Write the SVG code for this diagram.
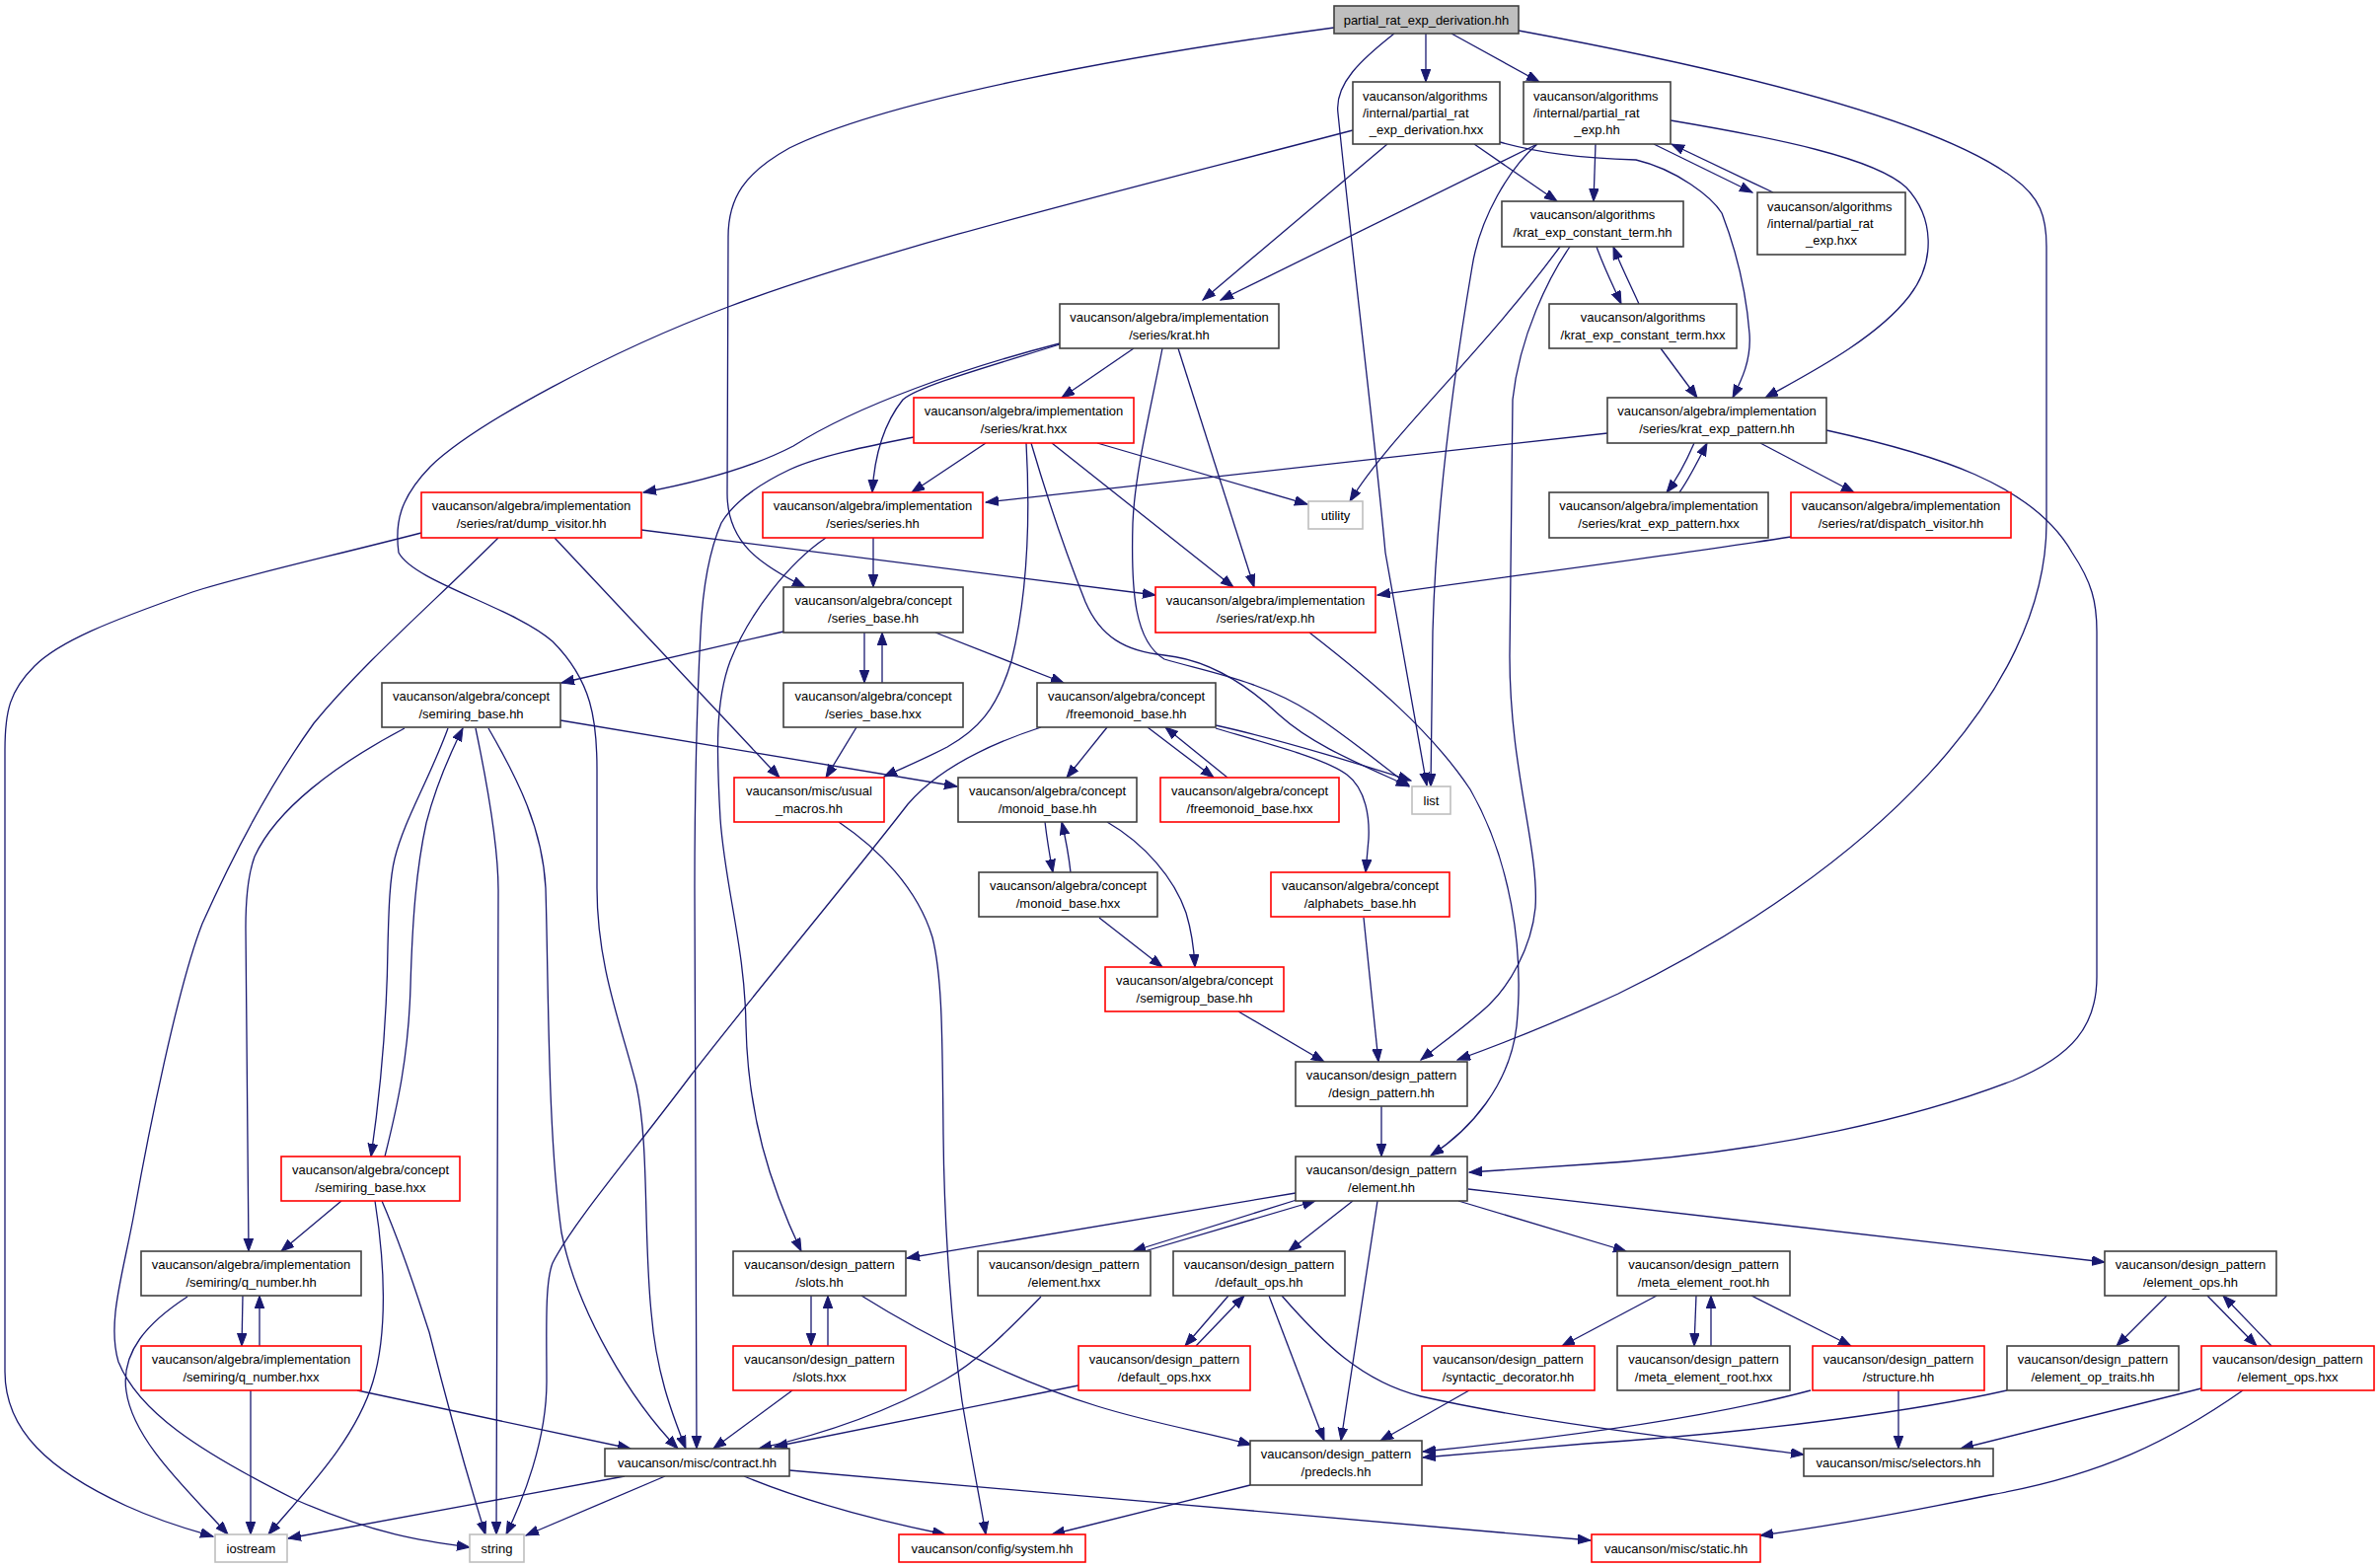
<svg xmlns="http://www.w3.org/2000/svg" width="2411" height="1589" viewBox="0 0 2411 1589">
<style>
.n rect{fill:#fff;stroke:#404040;stroke-width:1.6}
.r rect{stroke:#ff0000}
.g rect{stroke:#bfbfbf}
#root rect{fill:#bfbfbf}
text{font-family:"Liberation Sans",Arial,Helvetica,sans-serif;font-size:13px;fill:#000;text-anchor:middle}
text.l{text-anchor:start}
#edges path{fill:none;stroke:#191970;stroke-width:1.3;marker-end:url(#a)}
</style>
<defs>
<marker id="a" markerWidth="14" markerHeight="11" refX="13" refY="5" orient="auto" markerUnits="userSpaceOnUse">
<path d="M0,0.2 L13,5 L0,9.8 z" fill="#191970" stroke="#191970" stroke-width="1"/>
</marker>
</defs>
<rect width="2411" height="1589" fill="#fff"/>
<g id="edges">
<path d="M1445,34 L1445,83"/>
<path d="M1471,34 L1560,83"/>
<path d="M1413,34 C1380,60 1352,85 1356,115 C1375,300 1392,430 1404,560 L1446,796"/>
<path d="M1352,28 C1150,55 900,100 800,150 C755,175 738,200 738,240 L737,500 C737,550 770,572 816,595"/>
<path d="M1539,31 C1750,70 1960,120 2040,180 C2068,200 2074,220 2074,250 L2074,530 C2074,700 1900,880 1640,1007 C1590,1030 1530,1055 1477,1074"/>
<path d="M1371,132 C1150,190 900,250 738,311 C620,355 480,430 436,473 C405,505 400,530 404,560 C420,590 520,615 560,650 C600,690 605,730 605,780 L605,900 C605,980 630,1040 645,1100 C658,1160 652,1250 660,1330 C665,1390 680,1430 695,1468"/>
<path d="M1406,146 L1219,304"/>
<path d="M1494,146 L1578,204"/>
<path d="M1520,144 C1560,155 1600,160 1658,162 C1700,172 1735,200 1745,216 C1762,260 1770,300 1773,338 C1775,365 1765,385 1756,403"/>
<path d="M1558,146 L1237,304"/>
<path d="M1558,146 C1530,170 1500,220 1492,270 C1470,400 1455,530 1452,640 L1450,797"/>
<path d="M1617,146 L1615,204"/>
<path d="M1676,146 L1776,195"/>
<path d="M1797,195 L1694,146"/>
<path d="M1693,122 C1800,140 1900,160 1932,190 C1960,220 1962,265 1935,300 C1900,345 1830,380 1789,403"/>
<path d="M1618,250 C1625,270 1635,290 1643,308"/>
<path d="M1661,308 C1652,288 1642,268 1635,250"/>
<path d="M1581,250 C1500,360 1410,440 1368,508"/>
<path d="M1591,250 C1570,280 1540,340 1533,405 L1530,665 C1530,780 1560,860 1556,920 C1552,960 1530,1000 1505,1022 C1485,1040 1460,1058 1440,1074"/>
<path d="M1683,353 L1720,403"/>
<path d="M1074,348 C980,372 870,410 804,452 C760,475 700,490 652,499"/>
<path d="M1074,349 C990,375 930,392 915,405 C895,430 886,465 884,499"/>
<path d="M1149,353 L1076,403"/>
<path d="M1178,353 C1165,420 1150,480 1148,530 C1146,600 1150,650 1180,668 C1220,680 1280,690 1330,723 C1370,750 1400,775 1428,796"/>
<path d="M1194,353 L1271,595"/>
<path d="M926,443 C880,452 830,462 800,476 C760,495 740,515 731,530 C718,560 712,600 710,640 C706,720 704,800 704,900 L706,1468"/>
<path d="M999,449 L924,499"/>
<path d="M1040,449 C1044,520 1042,600 1025,670 C1010,720 990,740 960,757 C935,770 915,778 896,787"/>
<path d="M1045,449 C1060,500 1080,560 1100,610 C1115,645 1140,660 1180,664 C1220,668 1260,690 1297,725 C1330,755 1380,775 1428,797"/>
<path d="M1066,449 L1250,595"/>
<path d="M1112,449 L1325,511"/>
<path d="M1629,439 L999,509"/>
<path d="M1717,449 C1710,465 1700,485 1689,499"/>
<path d="M1702,499 C1712,485 1722,465 1730,449"/>
<path d="M1784,449 L1879,499"/>
<path d="M1851,436 C1960,460 2060,490 2100,560 C2120,590 2125,610 2125,640 L2125,990 C2125,1040 2100,1070 2040,1095 C1950,1130 1800,1168 1607,1180 C1560,1183 1520,1186 1489,1188"/>
<path d="M427,540 C330,565 240,585 195,600 C110,630 60,650 35,675 C10,700 5,720 5,760 L5,1390 C5,1450 50,1490 128,1526 C165,1543 195,1551 216,1557"/>
<path d="M505,545 C440,610 370,670 318,733 C270,800 230,880 205,936 C180,1000 150,1150 136,1229 C125,1290 108,1340 120,1380 C140,1430 200,1470 300,1520 C380,1555 430,1562 476,1568"/>
<path d="M562,545 L790,788"/>
<path d="M650,537 L1171,603"/>
<path d="M885,545 L885,595"/>
<path d="M837,545 C800,570 760,620 740,670 C725,710 726,760 730,830 C735,900 755,960 756,1040 C758,1130 780,1200 812,1268"/>
<path d="M794,640 L569,692"/>
<path d="M876,641 L876,692"/>
<path d="M894,692 L894,641"/>
<path d="M948,641 L1078,692"/>
<path d="M868,737 L837,788"/>
<path d="M410,738 C340,775 280,820 258,868 C250,890 249,920 249,940 L252,1268"/>
<path d="M454,738 C435,790 410,830 400,870 C395,890 394,920 393,960 C392,1040 385,1110 376,1172"/>
<path d="M390,1172 C403,1120 414,1070 416,1000 C418,930 422,880 432,834 C442,795 458,760 469,738"/>
<path d="M482,738 C495,800 505,860 505,902 L503,1555"/>
<path d="M495,738 C525,790 550,840 553,900 C556,1000 555,1150 569,1249 C585,1330 640,1420 687,1468"/>
<path d="M568,730 L970,797"/>
<path d="M346,1217 L285,1268"/>
<path d="M380,1217 C390,1280 393,1350 378,1400 C360,1460 310,1510 272,1555"/>
<path d="M387,1217 C410,1270 425,1320 435,1350 C455,1430 478,1510 492,1555"/>
<path d="M190,1314 C150,1340 122,1370 128,1410 C135,1460 190,1510 231,1555"/>
<path d="M246,1313 L245,1364"/>
<path d="M263,1364 L263,1313"/>
<path d="M254,1409 L254,1555"/>
<path d="M362,1409 L639,1468"/>
<path d="M1055,737 C1000,755 950,780 920,815 C870,880 770,1000 700,1090 C640,1170 580,1240 560,1280 C552,1300 554,1350 554,1400 C554,1460 530,1520 513,1555"/>
<path d="M1122,737 L1081,788"/>
<path d="M1163,737 L1230,788"/>
<path d="M1244,788 L1181,737"/>
<path d="M1232,735 C1300,750 1380,775 1430,791"/>
<path d="M1232,738 C1300,758 1345,770 1365,785 C1385,800 1388,830 1387,850 L1384,884"/>
<path d="M1059,833 C1061,850 1064,868 1067,884"/>
<path d="M1085,884 C1083,866 1080,850 1076,833"/>
<path d="M1122,833 C1160,855 1190,890 1202,925 C1208,945 1210,960 1211,980"/>
<path d="M1114,930 L1178,980"/>
<path d="M1382,930 L1397,1076"/>
<path d="M1255,1025 L1342,1076"/>
<path d="M850,833 C890,860 930,900 945,950 C955,990 955,1050 956,1150 C957,1250 965,1350 975,1420 C985,1480 995,1530 999,1555"/>
<path d="M1400,1121 L1400,1172"/>
<path d="M1313,1209 L919,1275"/>
<path d="M1314,1216 L1148,1268"/>
<path d="M1160,1268 L1333,1217"/>
<path d="M1371,1217 L1306,1268"/>
<path d="M1396,1217 L1359,1460"/>
<path d="M1478,1217 L1648,1268"/>
<path d="M1488,1205 L2133,1279"/>
<path d="M822,1313 L822,1364"/>
<path d="M839,1364 L839,1313"/>
<path d="M873,1313 C940,1355 1030,1400 1112,1425 C1170,1443 1225,1452 1268,1464"/>
<path d="M803,1409 L723,1468"/>
<path d="M1055,1314 C1020,1350 990,1380 958,1398 C910,1425 850,1450 769,1468"/>
<path d="M1245,1313 L1201,1364"/>
<path d="M1212,1364 L1261,1313"/>
<path d="M1286,1313 L1342,1460"/>
<path d="M1299,1313 C1340,1360 1380,1400 1440,1415 C1550,1440 1700,1458 1828,1474"/>
<path d="M1093,1404 L785,1466"/>
<path d="M633,1496 L292,1559"/>
<path d="M674,1496 L533,1556"/>
<path d="M754,1496 C800,1515 860,1535 958,1555"/>
<path d="M800,1490 L1612,1561"/>
<path d="M1267,1505 L1066,1555"/>
<path d="M1679,1313 L1583,1364"/>
<path d="M1719,1313 L1717,1364"/>
<path d="M1734,1364 L1734,1313"/>
<path d="M1775,1313 L1876,1364"/>
<path d="M1489,1409 L1399,1460"/>
<path d="M1835,1409 Q1700,1445 1442,1471"/>
<path d="M1924,1409 L1924,1468"/>
<path d="M2034,1409 C1950,1428 1800,1450 1607,1463 L1442,1477"/>
<path d="M2196,1313 L2145,1364"/>
<path d="M2237,1313 L2287,1364"/>
<path d="M2302,1364 L2253,1313"/>
<path d="M2231,1407 L1987,1468"/>
<path d="M2273,1409 C2200,1460 2130,1495 2017,1515 C1920,1535 1850,1547 1784,1556"/>
<path d="M1327,641 C1390,690 1450,740 1490,800 C1530,870 1545,960 1537,1040 C1530,1100 1490,1145 1450,1171"/>
<path d="M1815,544 C1680,565 1520,585 1396,603"/>
</g>
<g id="nodes">
<g id="root" class="n"><rect x="1352" y="6" width="187" height="28"/><text x="1445.5" y="24.5">partial_rat_exp_derivation.hh</text></g>
<g id="n1" class="n"><rect x="1371" y="83" width="149" height="63"/><text class="l" x="1381" y="102">vaucanson/algorithms</text><text class="l" x="1381" y="119">/internal/partial_rat</text><text x="1445.5" y="136">_exp_derivation.hxx</text></g>
<g id="n2" class="n"><rect x="1544" y="83" width="149" height="63"/><text class="l" x="1554" y="102">vaucanson/algorithms</text><text class="l" x="1554" y="119">/internal/partial_rat</text><text x="1618.5" y="136">_exp.hh</text></g>
<g id="n3" class="n"><rect x="1781" y="195" width="150" height="63"/><text class="l" x="1791" y="214">vaucanson/algorithms</text><text class="l" x="1791" y="231">/internal/partial_rat</text><text x="1856" y="248">_exp.hxx</text></g>
<g id="n4" class="n"><rect x="1522" y="204" width="184" height="46"/><text x="1614" y="221.5">vaucanson/algorithms</text><text x="1614" y="239.5">/krat_exp_constant_term.hh</text></g>
<g id="n5" class="n"><rect x="1074" y="308" width="222" height="45"/><text x="1185" y="325.5">vaucanson/algebra/implementation</text><text x="1185" y="343.5">/series/krat.hh</text></g>
<g id="n6" class="n"><rect x="1570" y="308" width="190" height="45"/><text x="1665" y="325.5">vaucanson/algorithms</text><text x="1665" y="343.5">/krat_exp_constant_term.hxx</text></g>
<g id="n7" class="n r"><rect x="926" y="403" width="223" height="46"/><text x="1037.5" y="420.5">vaucanson/algebra/implementation</text><text x="1037.5" y="438.5">/series/krat.hxx</text></g>
<g id="n8" class="n"><rect x="1629" y="403" width="222" height="46"/><text x="1740" y="420.5">vaucanson/algebra/implementation</text><text x="1740" y="438.5">/series/krat_exp_pattern.hh</text></g>
<g id="n9" class="n r"><rect x="427" y="499" width="223" height="46"/><text x="538.5" y="516.5">vaucanson/algebra/implementation</text><text x="538.5" y="534.5">/series/rat/dump_visitor.hh</text></g>
<g id="n10" class="n r"><rect x="773" y="499" width="223" height="46"/><text x="884.5" y="516.5">vaucanson/algebra/implementation</text><text x="884.5" y="534.5">/series/series.hh</text></g>
<g id="n11" class="n g"><rect x="1326" y="508" width="55" height="28"/><text x="1353.5" y="526.5">utility</text></g>
<g id="n12" class="n"><rect x="1570" y="499" width="222" height="46"/><text x="1681" y="516.5">vaucanson/algebra/implementation</text><text x="1681" y="534.5">/series/krat_exp_pattern.hxx</text></g>
<g id="n13" class="n r"><rect x="1815" y="499" width="223" height="46"/><text x="1926.5" y="516.5">vaucanson/algebra/implementation</text><text x="1926.5" y="534.5">/series/rat/dispatch_visitor.hh</text></g>
<g id="n14" class="n"><rect x="794" y="595" width="182" height="46"/><text x="885" y="612.5">vaucanson/algebra/concept</text><text x="885" y="630.5">/series_base.hh</text></g>
<g id="n15" class="n r"><rect x="1171" y="595" width="223" height="46"/><text x="1282.5" y="612.5">vaucanson/algebra/implementation</text><text x="1282.5" y="630.5">/series/rat/exp.hh</text></g>
<g id="n16" class="n"><rect x="387" y="692" width="181" height="45"/><text x="477.5" y="709.5">vaucanson/algebra/concept</text><text x="477.5" y="727.5">/semiring_base.hh</text></g>
<g id="n17" class="n"><rect x="794" y="692" width="182" height="45"/><text x="885" y="709.5">vaucanson/algebra/concept</text><text x="885" y="727.5">/series_base.hxx</text></g>
<g id="n18" class="n"><rect x="1051" y="692" width="181" height="45"/><text x="1141.5" y="709.5">vaucanson/algebra/concept</text><text x="1141.5" y="727.5">/freemonoid_base.hh</text></g>
<g id="n19" class="n r"><rect x="744" y="788" width="152" height="45"/><text x="820" y="805.5">vaucanson/misc/usual</text><text x="820" y="823.5">_macros.hh</text></g>
<g id="n20" class="n"><rect x="971" y="788" width="181" height="45"/><text x="1061.5" y="805.5">vaucanson/algebra/concept</text><text x="1061.5" y="823.5">/monoid_base.hh</text></g>
<g id="n21" class="n r"><rect x="1176" y="788" width="181" height="45"/><text x="1266.5" y="805.5">vaucanson/algebra/concept</text><text x="1266.5" y="823.5">/freemonoid_base.hxx</text></g>
<g id="n22" class="n g"><rect x="1431" y="797" width="39" height="28"/><text x="1450.5" y="815.5">list</text></g>
<g id="n23" class="n"><rect x="992" y="884" width="181" height="45"/><text x="1082.5" y="901.5">vaucanson/algebra/concept</text><text x="1082.5" y="919.5">/monoid_base.hxx</text></g>
<g id="n24" class="n r"><rect x="1288" y="884" width="181" height="45"/><text x="1378.5" y="901.5">vaucanson/algebra/concept</text><text x="1378.5" y="919.5">/alphabets_base.hh</text></g>
<g id="n25" class="n r"><rect x="1120" y="980" width="181" height="45"/><text x="1210.5" y="997.5">vaucanson/algebra/concept</text><text x="1210.5" y="1015.5">/semigroup_base.hh</text></g>
<g id="n26" class="n"><rect x="1313" y="1076" width="174" height="45"/><text x="1400" y="1093.5">vaucanson/design_pattern</text><text x="1400" y="1111.5">/design_pattern.hh</text></g>
<g id="n27" class="n"><rect x="1313" y="1172" width="174" height="45"/><text x="1400" y="1189.5">vaucanson/design_pattern</text><text x="1400" y="1207.5">/element.hh</text></g>
<g id="n28" class="n r"><rect x="285" y="1172" width="181" height="45"/><text x="375.5" y="1189.5">vaucanson/algebra/concept</text><text x="375.5" y="1207.5">/semiring_base.hxx</text></g>
<g id="n29" class="n"><rect x="143" y="1268" width="223" height="45"/><text x="254.5" y="1285.5">vaucanson/algebra/implementation</text><text x="254.5" y="1303.5">/semiring/q_number.hh</text></g>
<g id="n30" class="n"><rect x="743" y="1268" width="175" height="45"/><text x="830.5" y="1285.5">vaucanson/design_pattern</text><text x="830.5" y="1303.5">/slots.hh</text></g>
<g id="n31" class="n"><rect x="991" y="1268" width="175" height="45"/><text x="1078.5" y="1285.5">vaucanson/design_pattern</text><text x="1078.5" y="1303.5">/element.hxx</text></g>
<g id="n32" class="n"><rect x="1189" y="1268" width="174" height="45"/><text x="1276" y="1285.5">vaucanson/design_pattern</text><text x="1276" y="1303.5">/default_ops.hh</text></g>
<g id="n33" class="n"><rect x="1639" y="1268" width="175" height="45"/><text x="1726.5" y="1285.5">vaucanson/design_pattern</text><text x="1726.5" y="1303.5">/meta_element_root.hh</text></g>
<g id="n34" class="n"><rect x="2133" y="1268" width="174" height="45"/><text x="2220" y="1285.5">vaucanson/design_pattern</text><text x="2220" y="1303.5">/element_ops.hh</text></g>
<g id="n35" class="n r"><rect x="143" y="1364" width="223" height="45"/><text x="254.5" y="1381.5">vaucanson/algebra/implementation</text><text x="254.5" y="1399.5">/semiring/q_number.hxx</text></g>
<g id="n36" class="n r"><rect x="743" y="1364" width="175" height="45"/><text x="830.5" y="1381.5">vaucanson/design_pattern</text><text x="830.5" y="1399.5">/slots.hxx</text></g>
<g id="n37" class="n r"><rect x="1093" y="1364" width="174" height="45"/><text x="1180" y="1381.5">vaucanson/design_pattern</text><text x="1180" y="1399.5">/default_ops.hxx</text></g>
<g id="n38" class="n r"><rect x="1441" y="1364" width="175" height="45"/><text x="1528.5" y="1381.5">vaucanson/design_pattern</text><text x="1528.5" y="1399.5">/syntactic_decorator.hh</text></g>
<g id="n39" class="n"><rect x="1639" y="1364" width="175" height="45"/><text x="1726.5" y="1381.5">vaucanson/design_pattern</text><text x="1726.5" y="1399.5">/meta_element_root.hxx</text></g>
<g id="n40" class="n r"><rect x="1837" y="1364" width="174" height="45"/><text x="1924" y="1381.5">vaucanson/design_pattern</text><text x="1924" y="1399.5">/structure.hh</text></g>
<g id="n41" class="n"><rect x="2034" y="1364" width="174" height="45"/><text x="2121" y="1381.5">vaucanson/design_pattern</text><text x="2121" y="1399.5">/element_op_traits.hh</text></g>
<g id="n42" class="n r"><rect x="2231" y="1364" width="175" height="45"/><text x="2318.5" y="1381.5">vaucanson/design_pattern</text><text x="2318.5" y="1399.5">/element_ops.hxx</text></g>
<g id="n43" class="n"><rect x="613" y="1468" width="187" height="28"/><text x="706.5" y="1486.5">vaucanson/misc/contract.hh</text></g>
<g id="n44" class="n"><rect x="1267" y="1460" width="174" height="45"/><text x="1354" y="1477.5">vaucanson/design_pattern</text><text x="1354" y="1495.5">/predecls.hh</text></g>
<g id="n45" class="n"><rect x="1828" y="1468" width="192" height="28"/><text x="1924" y="1486.5">vaucanson/misc/selectors.hh</text></g>
<g id="n46" class="n g"><rect x="218" y="1555" width="73" height="28"/><text x="254.5" y="1573.5">iostream</text></g>
<g id="n47" class="n g"><rect x="476" y="1555" width="55" height="28"/><text x="503.5" y="1573.5">string</text></g>
<g id="n48" class="n r"><rect x="911" y="1555" width="189" height="28"/><text x="1005.5" y="1573.5">vaucanson/config/system.hh</text></g>
<g id="n49" class="n r"><rect x="1613" y="1555" width="171" height="28"/><text x="1698.5" y="1573.5">vaucanson/misc/static.hh</text></g>
</g>
</svg>
